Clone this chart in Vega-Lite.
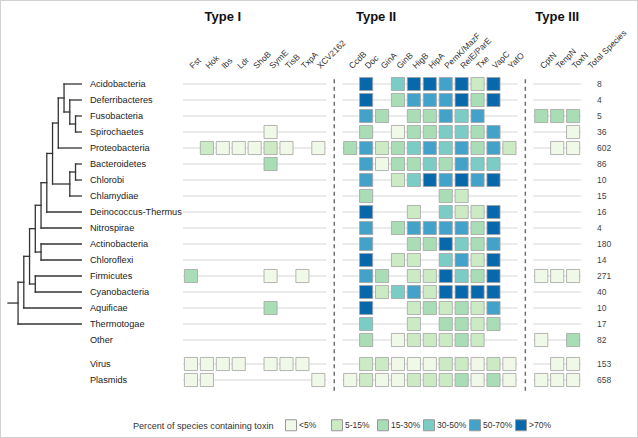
{
  "$schema": "https://vega.github.io/schema/vega-lite/v6.json",
  "width": 638,
  "height": 438,
  "padding": 0,
  "autosize": {"type": "fit", "contains": "padding"},
  "background": "white",
  "config": {
    "view": {"stroke": "#d0d0d0", "strokeWidth": 2},
    "font": "Liberation Sans"
  },
  "datasets": {
    "taxa": [
      {"taxon": "Acidobacteria", "r": 0, "total": 8},
      {"taxon": "Deferribacteres", "r": 1, "total": 4},
      {"taxon": "Fusobacteria", "r": 2, "total": 5},
      {"taxon": "Spirochaetes", "r": 3, "total": 36},
      {"taxon": "Proteobacteria", "r": 4, "total": 602},
      {"taxon": "Bacteroidetes", "r": 5, "total": 86},
      {"taxon": "Chlorobi", "r": 6, "total": 10},
      {"taxon": "Chlamydiae", "r": 7, "total": 15},
      {"taxon": "Deinococcus-Thermus", "r": 8, "total": 16},
      {"taxon": "Nitrospirae", "r": 9, "total": 4},
      {"taxon": "Actinobacteria", "r": 10, "total": 180},
      {"taxon": "Chloroflexi", "r": 11, "total": 14},
      {"taxon": "Firmicutes", "r": 12, "total": 271},
      {"taxon": "Cyanobacteria", "r": 13, "total": 40},
      {"taxon": "Aquificae", "r": 14, "total": 10},
      {"taxon": "Thermotogae", "r": 15, "total": 17},
      {"taxon": "Other", "r": 16, "total": 82},
      {"taxon": "Virus", "r": 17.5, "total": 153},
      {"taxon": "Plasmids", "r": 18.5, "total": 658}
    ],
    "columns": [
      {"toxin": "Fst", "label": "Fst"},
      {"toxin": "Hok", "label": "Hok"},
      {"toxin": "Ibs", "label": "Ibs"},
      {"toxin": "Ldr", "label": "Ldr"},
      {"toxin": "ShoB", "label": "ShoB"},
      {"toxin": "SymE", "label": "SymE"},
      {"toxin": "TisB", "label": "TisB"},
      {"toxin": "TxpA", "label": "TxpA"},
      {"toxin": "XCV2162", "label": "XCV2162"},
      {"toxin": "CcdB", "label": "CcdB"},
      {"toxin": "Doc", "label": "Doc"},
      {"toxin": "GinA", "label": "GinA"},
      {"toxin": "GinB", "label": "GinB"},
      {"toxin": "HigB", "label": "HigB"},
      {"toxin": "HipA", "label": "HipA"},
      {"toxin": "PemK/MazF", "label": "PemK/MazF"},
      {"toxin": "RelE/ParE", "label": "RelE/ParE"},
      {"toxin": "Txe", "label": "Txe"},
      {"toxin": "VapC", "label": "VapC"},
      {"toxin": "YafO", "label": "YafO"},
      {"toxin": "CptN", "label": "CptN"},
      {"toxin": "TenpN", "label": "TenpN"},
      {"toxin": "ToxN", "label": "ToxN"},
      {"toxin": "Total", "label": "Total Species"}
    ],
    "tree": [
      {"x": 8, "x2": 11, "y": 0, "y2": 0},
      {"x": 9, "x2": 11, "y": 1, "y2": 1},
      {"x": 10, "x2": 11, "y": 2, "y2": 2},
      {"x": 10, "x2": 11, "y": 3, "y2": 3},
      {"x": 7, "x2": 11, "y": 4, "y2": 4},
      {"x": 10, "x2": 11, "y": 5, "y2": 5},
      {"x": 10, "x2": 11, "y": 6, "y2": 6},
      {"x": 9, "x2": 11, "y": 7, "y2": 7},
      {"x": 5, "x2": 11, "y": 8, "y2": 8},
      {"x": 4, "x2": 11, "y": 9, "y2": 9},
      {"x": 4, "x2": 11, "y": 10, "y2": 10},
      {"x": 4, "x2": 11, "y": 11, "y2": 11},
      {"x": 3, "x2": 11, "y": 12, "y2": 12},
      {"x": 3, "x2": 11, "y": 13, "y2": 13},
      {"x": 1, "x2": 11, "y": 14, "y2": 14},
      {"x": 0, "x2": 11, "y": 15, "y2": 15},
      {"x": 9, "x2": 10, "y": 2.5, "y2": 2.5},
      {"x": 8, "x2": 9, "y": 1.75, "y2": 1.75},
      {"x": 7, "x2": 8, "y": 0.875, "y2": 0.875},
      {"x": 6, "x2": 7, "y": 2.44, "y2": 2.44},
      {"x": 9, "x2": 10, "y": 5.5, "y2": 5.5},
      {"x": 6, "x2": 9, "y": 6.25, "y2": 6.25},
      {"x": 5, "x2": 6, "y": 4.34, "y2": 4.34},
      {"x": 4, "x2": 5, "y": 6.17, "y2": 6.17},
      {"x": 3, "x2": 4, "y": 7.58, "y2": 7.58},
      {"x": 3, "x2": 4, "y": 10.5, "y2": 10.5},
      {"x": 2, "x2": 3, "y": 9.04, "y2": 9.04},
      {"x": 2, "x2": 3, "y": 12.5, "y2": 12.5},
      {"x": 1, "x2": 2, "y": 10.77, "y2": 10.77},
      {"x": 0, "x2": 1, "y": 12.39, "y2": 12.39},
      {"x": -1.75, "x2": 0, "y": 13.69, "y2": 13.69},
      {"x": 10, "x2": 10, "y": 2, "y2": 3},
      {"x": 9, "x2": 9, "y": 1, "y2": 2.5},
      {"x": 8, "x2": 8, "y": 0, "y2": 1.75},
      {"x": 7, "x2": 7, "y": 0.875, "y2": 4},
      {"x": 10, "x2": 10, "y": 5, "y2": 6},
      {"x": 9, "x2": 9, "y": 5.5, "y2": 7},
      {"x": 6, "x2": 6, "y": 2.44, "y2": 6.25},
      {"x": 5, "x2": 5, "y": 4.34, "y2": 8},
      {"x": 4, "x2": 4, "y": 6.17, "y2": 9},
      {"x": 4, "x2": 4, "y": 10, "y2": 11},
      {"x": 3, "x2": 3, "y": 7.58, "y2": 10.5},
      {"x": 3, "x2": 3, "y": 12, "y2": 13},
      {"x": 2, "x2": 2, "y": 9.04, "y2": 12.5},
      {"x": 1, "x2": 1, "y": 10.77, "y2": 14},
      {"x": 0, "x2": 0, "y": 12.39, "y2": 15}
    ],
    "cells": [
      {"taxon": "Acidobacteria", "toxin": "Doc", "pct": ">70%"},
      {"taxon": "Acidobacteria", "toxin": "GinB", "pct": "30-50%"},
      {"taxon": "Acidobacteria", "toxin": "HigB", "pct": ">70%"},
      {"taxon": "Acidobacteria", "toxin": "HipA", "pct": ">70%"},
      {"taxon": "Acidobacteria", "toxin": "PemK/MazF", "pct": "50-70%"},
      {"taxon": "Acidobacteria", "toxin": "RelE/ParE", "pct": ">70%"},
      {"taxon": "Acidobacteria", "toxin": "Txe", "pct": "5-15%"},
      {"taxon": "Acidobacteria", "toxin": "VapC", "pct": ">70%"},
      {"taxon": "Deferribacteres", "toxin": "Doc", "pct": ">70%"},
      {"taxon": "Deferribacteres", "toxin": "GinB", "pct": "15-30%"},
      {"taxon": "Deferribacteres", "toxin": "HigB", "pct": "50-70%"},
      {"taxon": "Deferribacteres", "toxin": "HipA", "pct": "50-70%"},
      {"taxon": "Deferribacteres", "toxin": "PemK/MazF", "pct": "50-70%"},
      {"taxon": "Deferribacteres", "toxin": "RelE/ParE", "pct": ">70%"},
      {"taxon": "Deferribacteres", "toxin": "Txe", "pct": "15-30%"},
      {"taxon": "Deferribacteres", "toxin": "VapC", "pct": ">70%"},
      {"taxon": "Fusobacteria", "toxin": "Doc", "pct": "50-70%"},
      {"taxon": "Fusobacteria", "toxin": "GinA", "pct": "15-30%"},
      {"taxon": "Fusobacteria", "toxin": "HigB", "pct": "15-30%"},
      {"taxon": "Fusobacteria", "toxin": "HipA", "pct": "15-30%"},
      {"taxon": "Fusobacteria", "toxin": "PemK/MazF", "pct": "50-70%"},
      {"taxon": "Fusobacteria", "toxin": "RelE/ParE", "pct": "30-50%"},
      {"taxon": "Fusobacteria", "toxin": "Txe", "pct": "50-70%"},
      {"taxon": "Fusobacteria", "toxin": "CptN", "pct": "15-30%"},
      {"taxon": "Fusobacteria", "toxin": "TenpN", "pct": "15-30%"},
      {"taxon": "Fusobacteria", "toxin": "ToxN", "pct": "15-30%"},
      {"taxon": "Spirochaetes", "toxin": "SymE", "pct": "<5%"},
      {"taxon": "Spirochaetes", "toxin": "Doc", "pct": "15-30%"},
      {"taxon": "Spirochaetes", "toxin": "GinB", "pct": "<5%"},
      {"taxon": "Spirochaetes", "toxin": "HigB", "pct": "15-30%"},
      {"taxon": "Spirochaetes", "toxin": "HipA", "pct": "15-30%"},
      {"taxon": "Spirochaetes", "toxin": "PemK/MazF", "pct": "30-50%"},
      {"taxon": "Spirochaetes", "toxin": "RelE/ParE", "pct": "30-50%"},
      {"taxon": "Spirochaetes", "toxin": "Txe", "pct": "15-30%"},
      {"taxon": "Spirochaetes", "toxin": "VapC", "pct": "50-70%"},
      {"taxon": "Spirochaetes", "toxin": "ToxN", "pct": "<5%"},
      {"taxon": "Proteobacteria", "toxin": "Hok", "pct": "5-15%"},
      {"taxon": "Proteobacteria", "toxin": "Ibs", "pct": "<5%"},
      {"taxon": "Proteobacteria", "toxin": "Ldr", "pct": "<5%"},
      {"taxon": "Proteobacteria", "toxin": "ShoB", "pct": "<5%"},
      {"taxon": "Proteobacteria", "toxin": "SymE", "pct": "5-15%"},
      {"taxon": "Proteobacteria", "toxin": "TisB", "pct": "<5%"},
      {"taxon": "Proteobacteria", "toxin": "XCV2162", "pct": "<5%"},
      {"taxon": "Proteobacteria", "toxin": "CcdB", "pct": "15-30%"},
      {"taxon": "Proteobacteria", "toxin": "Doc", "pct": "50-70%"},
      {"taxon": "Proteobacteria", "toxin": "GinA", "pct": "5-15%"},
      {"taxon": "Proteobacteria", "toxin": "GinB", "pct": "15-30%"},
      {"taxon": "Proteobacteria", "toxin": "HigB", "pct": "30-50%"},
      {"taxon": "Proteobacteria", "toxin": "HipA", "pct": "50-70%"},
      {"taxon": "Proteobacteria", "toxin": "PemK/MazF", "pct": "30-50%"},
      {"taxon": "Proteobacteria", "toxin": "RelE/ParE", "pct": "50-70%"},
      {"taxon": "Proteobacteria", "toxin": "Txe", "pct": "15-30%"},
      {"taxon": "Proteobacteria", "toxin": "VapC", "pct": "50-70%"},
      {"taxon": "Proteobacteria", "toxin": "YafO", "pct": "5-15%"},
      {"taxon": "Proteobacteria", "toxin": "TenpN", "pct": "<5%"},
      {"taxon": "Proteobacteria", "toxin": "ToxN", "pct": "<5%"},
      {"taxon": "Bacteroidetes", "toxin": "SymE", "pct": "15-30%"},
      {"taxon": "Bacteroidetes", "toxin": "Doc", "pct": "50-70%"},
      {"taxon": "Bacteroidetes", "toxin": "GinA", "pct": "<5%"},
      {"taxon": "Bacteroidetes", "toxin": "GinB", "pct": "15-30%"},
      {"taxon": "Bacteroidetes", "toxin": "HigB", "pct": "15-30%"},
      {"taxon": "Bacteroidetes", "toxin": "HipA", "pct": "30-50%"},
      {"taxon": "Bacteroidetes", "toxin": "PemK/MazF", "pct": "15-30%"},
      {"taxon": "Bacteroidetes", "toxin": "RelE/ParE", "pct": "50-70%"},
      {"taxon": "Bacteroidetes", "toxin": "Txe", "pct": "30-50%"},
      {"taxon": "Bacteroidetes", "toxin": "VapC", "pct": "30-50%"},
      {"taxon": "Chlorobi", "toxin": "Doc", "pct": "50-70%"},
      {"taxon": "Chlorobi", "toxin": "GinB", "pct": "5-15%"},
      {"taxon": "Chlorobi", "toxin": "HigB", "pct": "30-50%"},
      {"taxon": "Chlorobi", "toxin": "HipA", "pct": ">70%"},
      {"taxon": "Chlorobi", "toxin": "PemK/MazF", "pct": "50-70%"},
      {"taxon": "Chlorobi", "toxin": "RelE/ParE", "pct": ">70%"},
      {"taxon": "Chlorobi", "toxin": "Txe", "pct": "50-70%"},
      {"taxon": "Chlorobi", "toxin": "VapC", "pct": ">70%"},
      {"taxon": "Chlamydiae", "toxin": "Doc", "pct": "15-30%"},
      {"taxon": "Chlamydiae", "toxin": "PemK/MazF", "pct": "15-30%"},
      {"taxon": "Chlamydiae", "toxin": "RelE/ParE", "pct": "5-15%"},
      {"taxon": "Deinococcus-Thermus", "toxin": "Doc", "pct": ">70%"},
      {"taxon": "Deinococcus-Thermus", "toxin": "HigB", "pct": "5-15%"},
      {"taxon": "Deinococcus-Thermus", "toxin": "PemK/MazF", "pct": "30-50%"},
      {"taxon": "Deinococcus-Thermus", "toxin": "RelE/ParE", "pct": "5-15%"},
      {"taxon": "Deinococcus-Thermus", "toxin": "Txe", "pct": "5-15%"},
      {"taxon": "Deinococcus-Thermus", "toxin": "VapC", "pct": ">70%"},
      {"taxon": "Nitrospirae", "toxin": "Doc", "pct": "50-70%"},
      {"taxon": "Nitrospirae", "toxin": "GinB", "pct": "15-30%"},
      {"taxon": "Nitrospirae", "toxin": "HigB", "pct": "50-70%"},
      {"taxon": "Nitrospirae", "toxin": "HipA", "pct": "50-70%"},
      {"taxon": "Nitrospirae", "toxin": "PemK/MazF", "pct": "50-70%"},
      {"taxon": "Nitrospirae", "toxin": "RelE/ParE", "pct": "50-70%"},
      {"taxon": "Nitrospirae", "toxin": "Txe", "pct": "15-30%"},
      {"taxon": "Nitrospirae", "toxin": "VapC", "pct": ">70%"},
      {"taxon": "Actinobacteria", "toxin": "Doc", "pct": "50-70%"},
      {"taxon": "Actinobacteria", "toxin": "HigB", "pct": "15-30%"},
      {"taxon": "Actinobacteria", "toxin": "HipA", "pct": "15-30%"},
      {"taxon": "Actinobacteria", "toxin": "PemK/MazF", "pct": ">70%"},
      {"taxon": "Actinobacteria", "toxin": "RelE/ParE", "pct": "30-50%"},
      {"taxon": "Actinobacteria", "toxin": "Txe", "pct": "15-30%"},
      {"taxon": "Actinobacteria", "toxin": "VapC", "pct": "50-70%"},
      {"taxon": "Chloroflexi", "toxin": "Doc", "pct": ">70%"},
      {"taxon": "Chloroflexi", "toxin": "GinB", "pct": "5-15%"},
      {"taxon": "Chloroflexi", "toxin": "HigB", "pct": "5-15%"},
      {"taxon": "Chloroflexi", "toxin": "PemK/MazF", "pct": "30-50%"},
      {"taxon": "Chloroflexi", "toxin": "RelE/ParE", "pct": "50-70%"},
      {"taxon": "Chloroflexi", "toxin": "Txe", "pct": "5-15%"},
      {"taxon": "Chloroflexi", "toxin": "VapC", "pct": ">70%"},
      {"taxon": "Firmicutes", "toxin": "Fst", "pct": "15-30%"},
      {"taxon": "Firmicutes", "toxin": "SymE", "pct": "<5%"},
      {"taxon": "Firmicutes", "toxin": "TxpA", "pct": "<5%"},
      {"taxon": "Firmicutes", "toxin": "Doc", "pct": "50-70%"},
      {"taxon": "Firmicutes", "toxin": "GinA", "pct": "15-30%"},
      {"taxon": "Firmicutes", "toxin": "HigB", "pct": "5-15%"},
      {"taxon": "Firmicutes", "toxin": "HipA", "pct": "5-15%"},
      {"taxon": "Firmicutes", "toxin": "PemK/MazF", "pct": ">70%"},
      {"taxon": "Firmicutes", "toxin": "RelE/ParE", "pct": "30-50%"},
      {"taxon": "Firmicutes", "toxin": "Txe", "pct": "15-30%"},
      {"taxon": "Firmicutes", "toxin": "VapC", "pct": ">70%"},
      {"taxon": "Firmicutes", "toxin": "CptN", "pct": "<5%"},
      {"taxon": "Firmicutes", "toxin": "TenpN", "pct": "<5%"},
      {"taxon": "Firmicutes", "toxin": "ToxN", "pct": "<5%"},
      {"taxon": "Cyanobacteria", "toxin": "Doc", "pct": ">70%"},
      {"taxon": "Cyanobacteria", "toxin": "GinA", "pct": "5-15%"},
      {"taxon": "Cyanobacteria", "toxin": "GinB", "pct": "30-50%"},
      {"taxon": "Cyanobacteria", "toxin": "HigB", "pct": "50-70%"},
      {"taxon": "Cyanobacteria", "toxin": "HipA", "pct": "5-15%"},
      {"taxon": "Cyanobacteria", "toxin": "PemK/MazF", "pct": ">70%"},
      {"taxon": "Cyanobacteria", "toxin": "RelE/ParE", "pct": ">70%"},
      {"taxon": "Cyanobacteria", "toxin": "Txe", "pct": ">70%"},
      {"taxon": "Cyanobacteria", "toxin": "VapC", "pct": ">70%"},
      {"taxon": "Aquificae", "toxin": "SymE", "pct": "15-30%"},
      {"taxon": "Aquificae", "toxin": "Doc", "pct": ">70%"},
      {"taxon": "Aquificae", "toxin": "HigB", "pct": "5-15%"},
      {"taxon": "Aquificae", "toxin": "HipA", "pct": "15-30%"},
      {"taxon": "Aquificae", "toxin": "PemK/MazF", "pct": "5-15%"},
      {"taxon": "Aquificae", "toxin": "RelE/ParE", "pct": "15-30%"},
      {"taxon": "Aquificae", "toxin": "Txe", "pct": "5-15%"},
      {"taxon": "Aquificae", "toxin": "VapC", "pct": "50-70%"},
      {"taxon": "Thermotogae", "toxin": "Doc", "pct": "30-50%"},
      {"taxon": "Thermotogae", "toxin": "HigB", "pct": "5-15%"},
      {"taxon": "Thermotogae", "toxin": "PemK/MazF", "pct": "15-30%"},
      {"taxon": "Thermotogae", "toxin": "RelE/ParE", "pct": "15-30%"},
      {"taxon": "Thermotogae", "toxin": "Txe", "pct": "5-15%"},
      {"taxon": "Thermotogae", "toxin": "VapC", "pct": "15-30%"},
      {"taxon": "Other", "toxin": "Doc", "pct": "15-30%"},
      {"taxon": "Other", "toxin": "GinB", "pct": "<5%"},
      {"taxon": "Other", "toxin": "HigB", "pct": "5-15%"},
      {"taxon": "Other", "toxin": "HipA", "pct": "5-15%"},
      {"taxon": "Other", "toxin": "PemK/MazF", "pct": "5-15%"},
      {"taxon": "Other", "toxin": "RelE/ParE", "pct": "15-30%"},
      {"taxon": "Other", "toxin": "Txe", "pct": "5-15%"},
      {"taxon": "Other", "toxin": "CptN", "pct": "<5%"},
      {"taxon": "Other", "toxin": "ToxN", "pct": "15-30%"},
      {"taxon": "Virus", "toxin": "Fst", "pct": "<5%"},
      {"taxon": "Virus", "toxin": "Hok", "pct": "<5%"},
      {"taxon": "Virus", "toxin": "Ibs", "pct": "<5%"},
      {"taxon": "Virus", "toxin": "Ldr", "pct": "<5%"},
      {"taxon": "Virus", "toxin": "SymE", "pct": "<5%"},
      {"taxon": "Virus", "toxin": "TisB", "pct": "<5%"},
      {"taxon": "Virus", "toxin": "TxpA", "pct": "<5%"},
      {"taxon": "Virus", "toxin": "Doc", "pct": "5-15%"},
      {"taxon": "Virus", "toxin": "GinA", "pct": "5-15%"},
      {"taxon": "Virus", "toxin": "GinB", "pct": "<5%"},
      {"taxon": "Virus", "toxin": "HigB", "pct": "<5%"},
      {"taxon": "Virus", "toxin": "HipA", "pct": "<5%"},
      {"taxon": "Virus", "toxin": "PemK/MazF", "pct": "5-15%"},
      {"taxon": "Virus", "toxin": "RelE/ParE", "pct": "5-15%"},
      {"taxon": "Virus", "toxin": "Txe", "pct": "<5%"},
      {"taxon": "Virus", "toxin": "VapC", "pct": "5-15%"},
      {"taxon": "Virus", "toxin": "YafO", "pct": "<5%"},
      {"taxon": "Virus", "toxin": "TenpN", "pct": "<5%"},
      {"taxon": "Virus", "toxin": "ToxN", "pct": "<5%"},
      {"taxon": "Plasmids", "toxin": "Fst", "pct": "<5%"},
      {"taxon": "Plasmids", "toxin": "Hok", "pct": "<5%"},
      {"taxon": "Plasmids", "toxin": "XCV2162", "pct": "<5%"},
      {"taxon": "Plasmids", "toxin": "CcdB", "pct": "<5%"},
      {"taxon": "Plasmids", "toxin": "Doc", "pct": "5-15%"},
      {"taxon": "Plasmids", "toxin": "GinA", "pct": "<5%"},
      {"taxon": "Plasmids", "toxin": "GinB", "pct": "<5%"},
      {"taxon": "Plasmids", "toxin": "HigB", "pct": "5-15%"},
      {"taxon": "Plasmids", "toxin": "HipA", "pct": "5-15%"},
      {"taxon": "Plasmids", "toxin": "PemK/MazF", "pct": "5-15%"},
      {"taxon": "Plasmids", "toxin": "RelE/ParE", "pct": "15-30%"},
      {"taxon": "Plasmids", "toxin": "Txe", "pct": "<5%"},
      {"taxon": "Plasmids", "toxin": "VapC", "pct": "15-30%"},
      {"taxon": "Plasmids", "toxin": "YafO", "pct": "<5%"},
      {"taxon": "Plasmids", "toxin": "CptN", "pct": "<5%"},
      {"taxon": "Plasmids", "toxin": "TenpN", "pct": "<5%"},
      {"taxon": "Plasmids", "toxin": "ToxN", "pct": "<5%"}
    ]
  },
  "layer": [
    {
      "layer": [
        {
          "data": {"name": "tree"},
          "mark": {"type": "rule", "color": "#333333", "strokeWidth": 1.3, "strokeCap": "square"},
          "encoding": {
            "x": {"field": "x", "type": "quantitative", "axis": null,
                  "scale": {"domain": [-1.75, 12.5], "range": [8, 89.9], "nice": false, "zero": false}},
            "x2": {"field": "x2"},
            "y": {"field": "y", "type": "quantitative", "axis": null,
                  "scale": {"domain": [-5.25, 22.125], "reverse": true, "nice": false, "zero": false}},
            "y2": {"field": "y2"}
          }
        },
        {
          "data": {"name": "taxa"},
          "mark": {"type": "text", "align": "left", "baseline": "middle", "fontSize": 9.2, "color": "#222222", "font": "Liberation Sans"},
          "encoding": {
            "x": {"datum": 12.5, "type": "quantitative", "axis": null},
            "y": {"field": "r", "type": "quantitative", "axis": null},
            "text": {"field": "taxon"}
          }
        }
      ]
    },
    {
      "layer": [
        {
          "data": {"name": "taxa"},
          "mark": {"type": "rule", "color": "#d6d6d6", "strokeWidth": 1},
          "encoding": {
            "x": {"datum": "Fst", "type": "nominal", "bandPosition": 0, "axis": null},
            "x2": {"datum": "XCV2162", "bandPosition": 1},
            "y": {"field": "r", "type": "quantitative", "axis": null}
          }
        },
        {
          "data": {"name": "taxa"},
          "mark": {"type": "rule", "color": "#d6d6d6", "strokeWidth": 1},
          "encoding": {
            "x": {"datum": "CcdB", "type": "nominal", "bandPosition": 0, "axis": null},
            "x2": {"datum": "YafO", "bandPosition": 1},
            "y": {"field": "r", "type": "quantitative", "axis": null}
          }
        },
        {
          "data": {"name": "taxa"},
          "mark": {"type": "rule", "color": "#d6d6d6", "strokeWidth": 1},
          "encoding": {
            "x": {"datum": "CptN", "type": "nominal", "bandPosition": 0, "axis": null},
            "x2": {"datum": "ToxN", "bandPosition": 1},
            "y": {"field": "r", "type": "quantitative", "axis": null}
          }
        },
        {
          "data": {"values": [{"sep": "sep1"}, {"sep": "sep2"}]},
          "mark": {"type": "rule", "color": "#707070", "strokeWidth": 1.5, "strokeDash": [4, 3.5]},
          "encoding": {
            "x": {"field": "sep", "type": "nominal", "axis": null},
            "y": {"datum": -0.3, "type": "quantitative", "axis": null},
            "y2": {"datum": 19.2}
          }
        },
        {
          "data": {"name": "cells"},
          "transform": [
            {"lookup": "taxon", "from": {"data": {"name": "taxa"}, "key": "taxon", "fields": ["r"]}}
          ],
          "mark": {"type": "square", "size": 172, "filled": true, "opacity": 1, "stroke": "#a3a3a3", "strokeWidth": 0.8},
          "encoding": {
            "x": {
              "field": "toxin", "type": "nominal", "axis": null,
              "scale": {
                "type": "band",
                "domain": ["Fst", "Hok", "Ibs", "Ldr", "ShoB", "SymE", "TisB", "TxpA", "XCV2162", "sep1",
                           "CcdB", "Doc", "GinA", "GinB", "HigB", "HipA", "PemK/MazF", "RelE/ParE", "Txe", "VapC", "YafO", "sep2",
                           "CptN", "TenpN", "ToxN", "Total"],
                "range": [183, 597],
                "paddingInner": 0,
                "paddingOuter": 0
              }
            },
            "y": {"field": "r", "type": "quantitative", "axis": null},
            "color": {
              "field": "pct", "type": "ordinal",
              "scale": {
                "domain": ["<5%", "5-15%", "15-30%", "30-50%", "50-70%", ">70%"],
                "range": ["#f0f9e8", "#ccebc5", "#a8ddb5", "#7bccc4", "#43a2ca", "#0868ac"]
              },
              "legend": {
                "title": "Percent of species containing toxin",
                "orient": "none",
                "legendX": 133,
                "legendY": 419,
                "direction": "horizontal",
                "titleOrient": "left",
                "titlePadding": 11,
                "titleFont": "Liberation Sans",
                "titleFontSize": 9.1,
                "titleFontWeight": "normal",
                "titleColor": "#333333",
                "labelFont": "Liberation Sans",
                "labelFontSize": 8.5,
                "labelColor": "#333333",
                "labelOffset": 2,
                "symbolType": "square",
                "symbolSize": 121,
                "symbolStrokeColor": "#999999",
                "symbolStrokeWidth": 1,
                "gridAlign": "all",
                "columnPadding": 0
              }
            }
          }
        },
        {
          "data": {"name": "columns"},
          "mark": {"type": "text", "align": "left", "baseline": "middle", "angle": -45, "fontSize": 8.5, "color": "#333333", "font": "Liberation Sans"},
          "encoding": {
            "x": {"field": "toxin", "type": "nominal", "axis": null},
            "y": {"datum": -1.05, "type": "quantitative", "axis": null},
            "text": {"field": "label"}
          }
        },
        {
          "data": {"name": "taxa"},
          "mark": {"type": "text", "align": "left", "baseline": "middle", "dx": 8, "fontSize": 8.5, "color": "#444444", "font": "Liberation Sans"},
          "encoding": {
            "x": {"datum": "Total", "type": "nominal", "axis": null},
            "y": {"field": "r", "type": "quantitative", "axis": null},
            "text": {"field": "total"}
          }
        },
        {
          "data": {"values": [{"label": "Type I"}]},
          "mark": {"type": "text", "align": "center", "baseline": "middle", "fontSize": 13, "fontWeight": "bold", "color": "#111111", "font": "Liberation Sans"},
          "encoding": {
            "x": {"datum": "Ibs", "type": "nominal", "axis": null},
            "y": {"datum": -4.2, "type": "quantitative", "axis": null},
            "text": {"field": "label"}
          }
        },
        {
          "data": {"values": [{"label": "Type II"}]},
          "mark": {"type": "text", "align": "center", "baseline": "middle", "dx": -6, "fontSize": 13, "fontWeight": "bold", "color": "#111111", "font": "Liberation Sans"},
          "encoding": {
            "x": {"datum": "GinA", "type": "nominal", "axis": null},
            "y": {"datum": -4.2, "type": "quantitative", "axis": null},
            "text": {"field": "label"}
          }
        },
        {
          "data": {"values": [{"label": "Type III"}]},
          "mark": {"type": "text", "align": "center", "baseline": "middle", "fontSize": 13, "fontWeight": "bold", "color": "#111111", "font": "Liberation Sans"},
          "encoding": {
            "x": {"datum": "TenpN", "type": "nominal", "axis": null},
            "y": {"datum": -4.2, "type": "quantitative", "axis": null},
            "text": {"field": "label"}
          }
        }
      ]
    }
  ],
  "resolve": {"scale": {"x": "independent"}}
}
